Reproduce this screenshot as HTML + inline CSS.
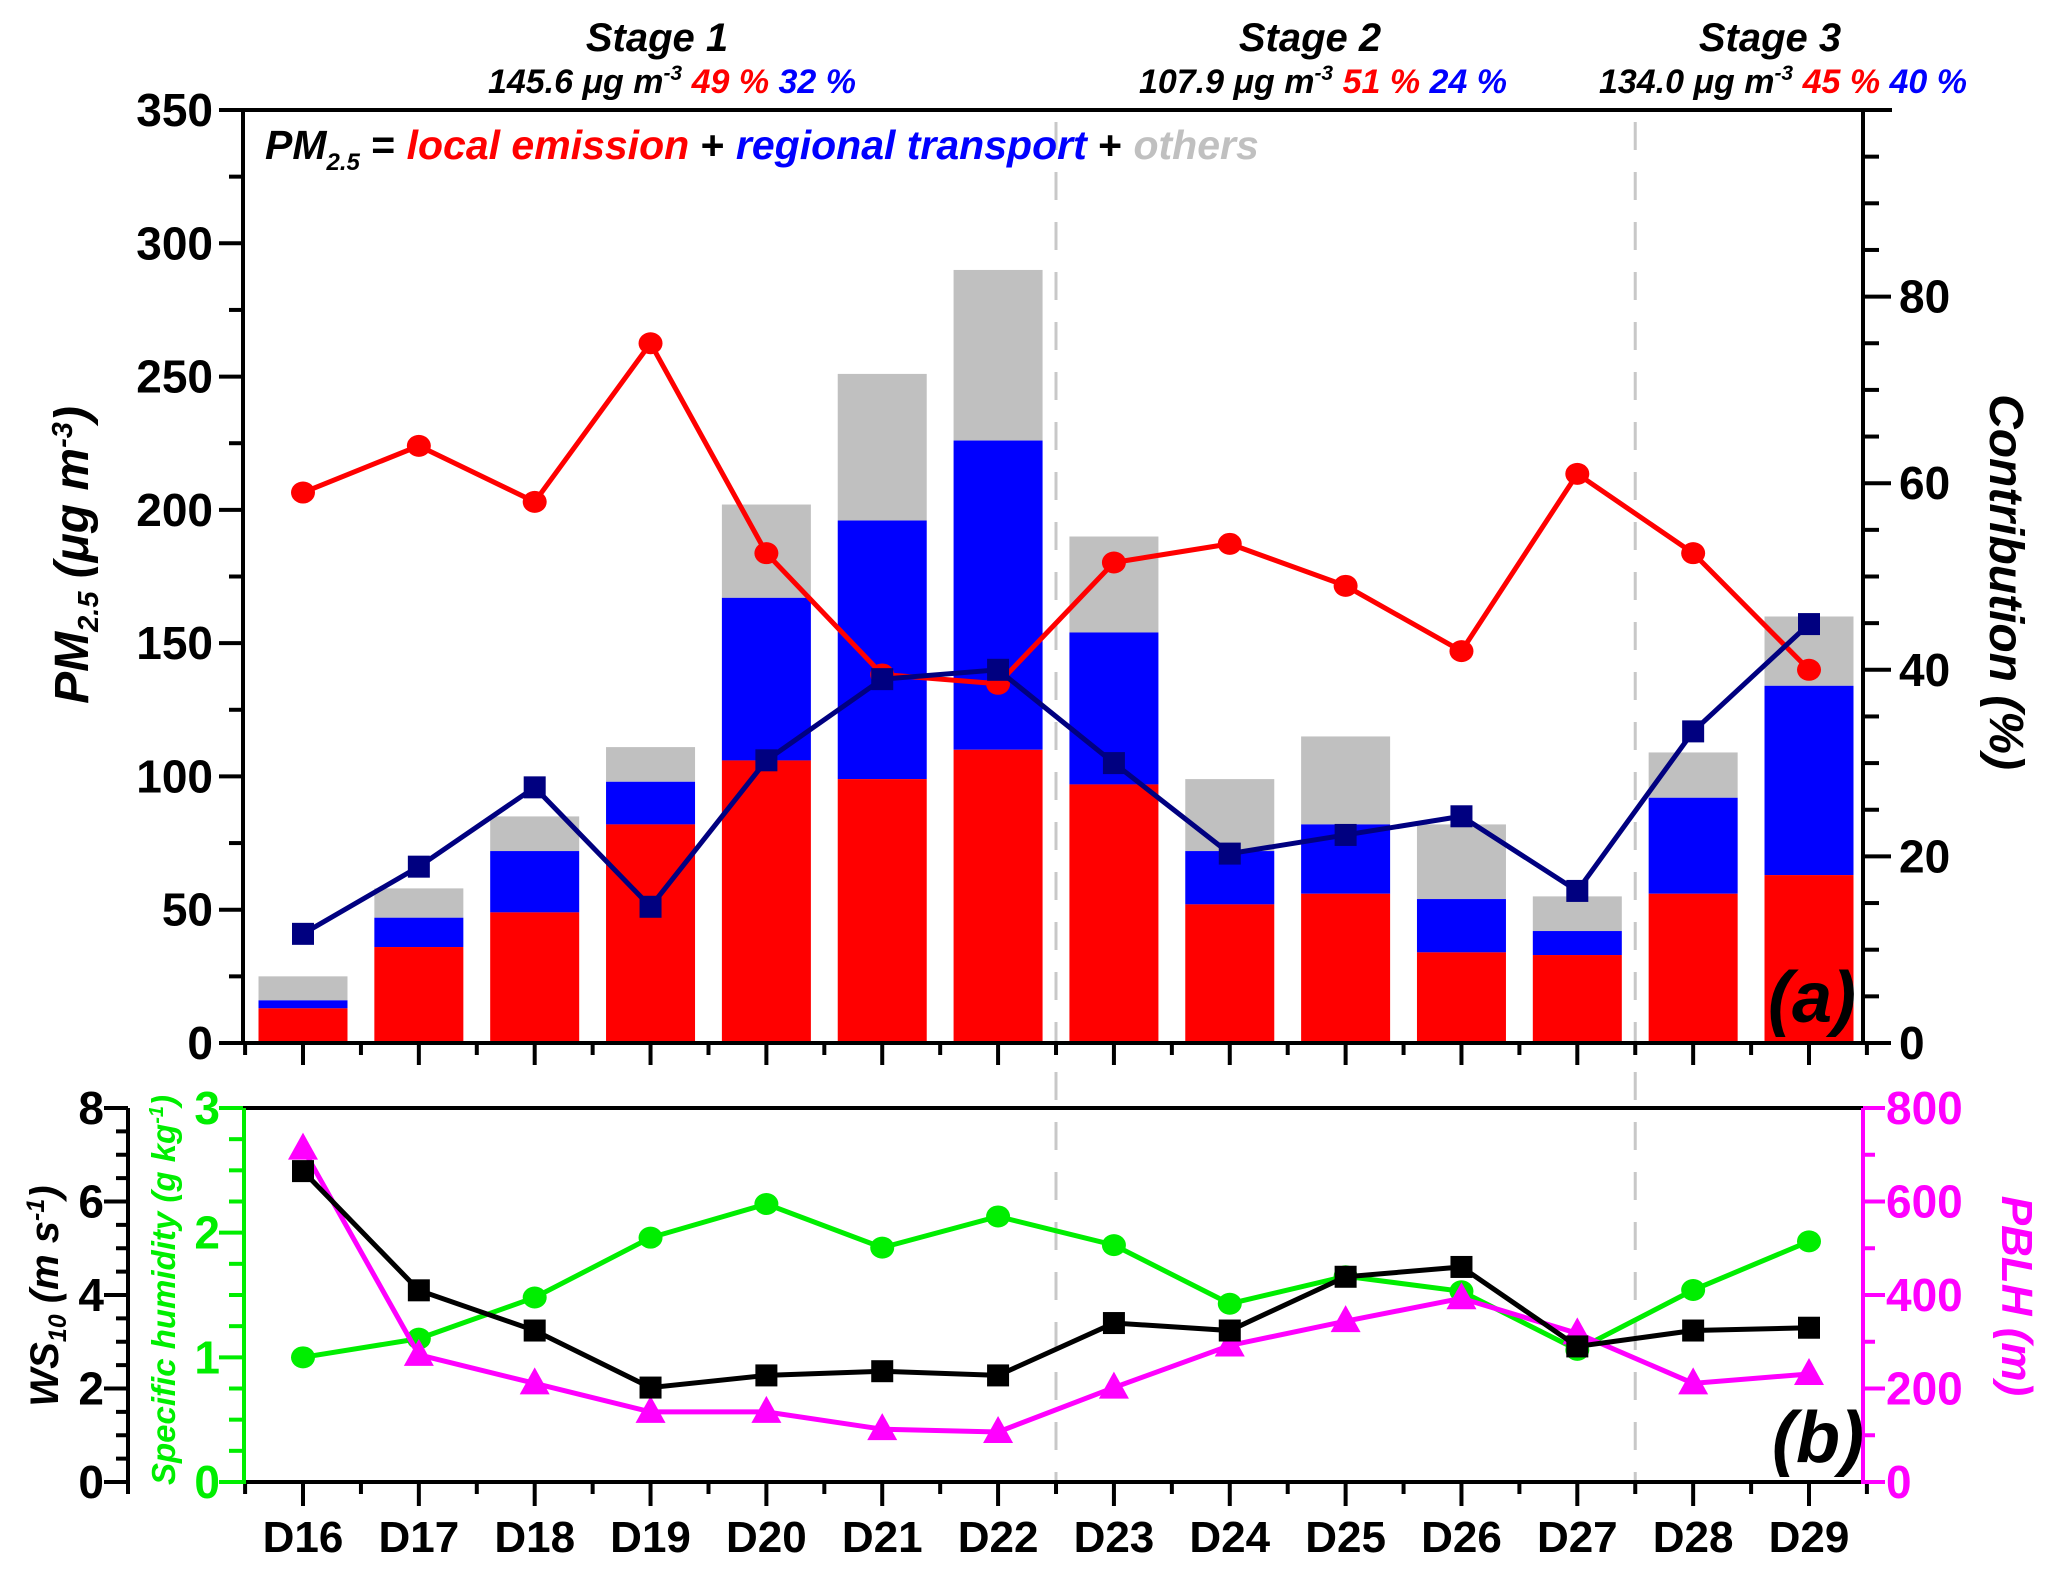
<!DOCTYPE html>
<html><head><meta charset="utf-8">
<style>
html,body{margin:0;padding:0;background:#fff;}
svg{display:block;font-family:"Liberation Sans",Arial,sans-serif;}
</style></head>
<body>
<svg id="chart" width="2067" height="1570" viewBox="0 0 2067 1570">
<g id="layer"></g>
</svg>
<script>
const categories=["D16","D17","D18","D19","D20","D21","D22","D23","D24","D25","D26","D27","D28","D29"];
const localEmission=[13,36,49,82,106,99,110,97,52,56,34,33,56,63];
const localPlusRegional=[16,47,72,98,167,196,226,154,72,82,54,42,92,134];
const totalPM=[25,58,85,111,202,251,290,190,99,115,82,55,109,160];
const localPct=[59,64,58,75,52.5,39.5,38.5,51.5,53.5,49,42,61,52.5,40];
const regionalPct=[11.7,18.9,27.4,14.6,30.3,39,40,30,20.3,22.3,24.3,16.3,33.4,44.9];
const ws10=[6.65,4.1,3.24,2.02,2.28,2.37,2.28,3.4,3.24,4.39,4.6,2.9,3.24,3.3];
const humidity=[1.0,1.15,1.48,1.96,2.23,1.88,2.13,1.9,1.43,1.65,1.53,1.06,1.54,1.93];
const pblh=[713,272,211,150,150,113,107,202,292,344,393,318,211,231];
const pmTicks=[0,50,100,150,200,250,300,350];
const pctTicks=[0,20,40,60,80];
const wsTicks=[0,2,4,6,8];
const humTicks=[0,1,2,3];
const pblhTicks=[0,200,400,600,800];

const NS="http://www.w3.org/2000/svg";
const L=document.getElementById('layer');
function mk(tag,attrs,parent){const e=document.createElementNS(NS,tag);for(const k in attrs)e.setAttribute(k,attrs[k]);(parent||L).appendChild(e);return e;}
const X0=243,X1=1863;
const xc=i=>303+i*(1809-303)/13;
const TOP0=1043,TOP1=110;
const yPM=v=>TOP0-v*(TOP0-TOP1)/350;
const yPct=v=>TOP0-v*(TOP0-TOP1)/100;
const B0=1482,B1=1108;
const yWS=v=>B0-v*(B0-B1)/8;
const yHum=v=>B0-v*(B0-B1)/3;
const yPB=v=>B0-v*(B0-B1)/800;
const bw=89;

categories.forEach((c,i)=>{
  let r=mk('rect',{x:xc(i)-bw/2,y:yPM(totalPM[i]),width:bw,height:yPM(localPlusRegional[i])-yPM(totalPM[i]),fill:'#c0c0c0'});
  
  
  r=mk('rect',{x:xc(i)-bw/2,y:yPM(localPlusRegional[i]),width:bw,height:yPM(localEmission[i])-yPM(localPlusRegional[i]),fill:'#0000ff'});
  
  
  r=mk('rect',{x:xc(i)-bw/2,y:yPM(localEmission[i]),width:bw,height:TOP0-yPM(localEmission[i]),fill:'#ff0000'});
  
  
});
[6.5,11.5].forEach(p=>{
  const x=xc(p);
  const d=mk('line',{x1:x,x2:x,y1:122,y2:1480,stroke:'#c8c8c8','stroke-width':3,'stroke-dasharray':'28,22'});
  
  
});
function series(vals,yf,color,marker,name,sw){
  const pts=vals.map((v,i)=>xc(i)+','+yf(v)).join(' ');
  const pl=mk('polyline',{points:pts,fill:'none',stroke:color,'stroke-width':sw||5});
  
  
  vals.forEach((v,i)=>{
    const x=xc(i),y=yf(v);let m;
    if(marker==='circle')m=mk('ellipse',{cx:x,cy:y,rx:12,ry:11,fill:color});
    else if(marker==='square')m=mk('rect',{x:x-11,y:y-11,width:22,height:22,fill:color});
    else m=mk('polygon',{points:`${x},${y-16} ${x-15},${y+11} ${x+15},${y+11}`,fill:color});
    
    
  });
}
series(localPct,yPct,'#ff0000','circle','local-contribution');
series(regionalPct,yPct,'#000080','square','regional-contribution');

const ax=mk('g',{stroke:'#000','stroke-width':4,fill:'none'});
mk('line',{x1:X0-2,x2:1892,y1:TOP1,y2:TOP1},ax);
mk('line',{x1:X0,x2:X0,y1:TOP1,y2:TOP0+2},ax);
mk('line',{x1:X1,x2:X1,y1:TOP1,y2:TOP0+2},ax);
mk('line',{x1:X0-2,x2:X1+2,y1:TOP0,y2:TOP0},ax);
for(let v=0;v<=350;v+=25){const y=yPM(v);mk('line',{x1:X0,x2:X0-(v%50===0?24:14),y1:y,y2:y},ax);}
for(let v=0;v<=100;v+=5){const y=yPct(v);mk('line',{x1:X1,x2:X1+(v%20===0?28:16),y1:y,y2:y},ax);}
categories.forEach((c,i)=>{mk('line',{x1:xc(i),x2:xc(i),y1:TOP0,y2:TOP0+22},ax);mk('line',{x1:xc(i)-57.9,x2:xc(i)-57.9,y1:TOP0,y2:TOP0+12},ax);});
mk('line',{x1:xc(13)+57.9,x2:xc(13)+57.9,y1:TOP0,y2:TOP0+12},ax);
pmTicks.forEach(v=>{const t=mk('text',{x:X0-30,y:yPM(v)+16,'text-anchor':'end','font-size':46,'font-weight':'bold'});t.textContent=v;});
pctTicks.forEach(v=>{const t=mk('text',{x:X1+36,y:yPct(v)+16,'font-size':46,'font-weight':'bold'});t.textContent=v;});

series(humidity,yHum,'#00ee00','circle','humidity');
series(pblh,yPB,'#ff00ff','triangle','pblh');
series(ws10,yWS,'#000','square','ws10');

const bx=mk('g',{stroke:'#000','stroke-width':4,fill:'none'});
mk('line',{x1:X0,x2:X1,y1:B1,y2:B1},bx);
mk('line',{x1:X0,x2:X1,y1:B0,y2:B0},bx);
mk('line',{x1:128,x2:128,y1:B1,y2:B0+12},bx);
for(let v=0;v<=8;v+=0.5){const y=yWS(v);mk('line',{x1:128,x2:128-(v%2===0?24:12),y1:y,y2:y},bx);}
categories.forEach((c,i)=>{mk('line',{x1:xc(i),x2:xc(i),y1:B0,y2:B0+24},bx);mk('line',{x1:xc(i)-57.9,x2:xc(i)-57.9,y1:B0,y2:B0+12},bx);});
mk('line',{x1:xc(13)+57.9,x2:xc(13)+57.9,y1:B0,y2:B0+12},bx);
const gx=mk('g',{stroke:'#00ee00','stroke-width':4});
mk('line',{x1:X0+1,x2:X0+1,y1:B1,y2:B0+2},gx);
for(let v=0;v<=3;v+=0.25){const y=yHum(v);mk('line',{x1:X0,x2:X0-(v%1===0?24:14),y1:y,y2:y},gx);}
const mx=mk('g',{stroke:'#ff00ff','stroke-width':4});
mk('line',{x1:X1,x2:X1,y1:B1,y2:B0+2},mx);
for(let v=0;v<=800;v+=100){const y=yPB(v);mk('line',{x1:X1,x2:X1+(v%200===0?22:12),y1:y,y2:y},mx);}
wsTicks.forEach(v=>{const t=mk('text',{x:104,y:yWS(v)+16,'text-anchor':'end','font-size':46,'font-weight':'bold'});t.textContent=v;});
humTicks.forEach(v=>{const t=mk('text',{x:220,y:yHum(v)+16,'text-anchor':'end','font-size':46,'font-weight':'bold',fill:'#00ee00'});t.textContent=v;});
pblhTicks.forEach(v=>{const t=mk('text',{x:1886,y:yPB(v)+16,'font-size':46,'font-weight':'bold',fill:'#ff00ff'});t.textContent=v;});
categories.forEach((c,i)=>{const t=mk('text',{x:xc(i),y:1552,'text-anchor':'middle','font-size':44,'font-weight':'bold'});t.textContent=c;});
</script>
<svg width="2067" height="1570" viewBox="0 0 2067 1570" style="position:absolute;left:0;top:0" font-family="Liberation Sans, Arial, sans-serif" font-weight="bold" font-style="italic">
<g>
<text x="657" y="51" text-anchor="middle" font-size="40">Stage 1</text>
<text x="672" y="93" text-anchor="middle" font-size="34"><tspan>145.6 μg m</tspan><tspan font-size="21" dy="-13">-3</tspan><tspan dy="13" fill="#f00"> 49 %</tspan><tspan fill="#00f">  32 %</tspan></text>
</g>
<g>
<text x="1310" y="51" text-anchor="middle" font-size="40">Stage 2</text>
<text x="1323" y="93" text-anchor="middle" font-size="34"><tspan>107.9 μg m</tspan><tspan font-size="21" dy="-13">-3</tspan><tspan dy="13" fill="#f00"> 51 %</tspan><tspan fill="#00f">  24 %</tspan></text>
</g>
<g>
<text x="1770" y="51" text-anchor="middle" font-size="40">Stage 3</text>
<text x="1783" y="93" text-anchor="middle" font-size="34"><tspan>134.0 μg m</tspan><tspan font-size="21" dy="-13">-3</tspan><tspan dy="13" fill="#f00"> 45 %</tspan><tspan fill="#00f">  40 %</tspan></text>
</g>
<text x="265" y="159" font-size="41"><tspan>PM</tspan><tspan font-size="24" dy="11">2.5</tspan><tspan dy="-11" font-style="normal"> = </tspan><tspan fill="#f00">local emission</tspan><tspan font-style="normal"> + </tspan><tspan fill="#00f">regional transport</tspan><tspan font-style="normal"> + </tspan><tspan fill="#c0c0c0">others</tspan></text>
<text transform="translate(88,555) rotate(-90)" text-anchor="middle" font-size="48"><tspan>PM</tspan><tspan font-size="29" dy="10">2.5</tspan><tspan dy="-10"> (μg  m</tspan><tspan font-size="29" dy="-16">-3</tspan><tspan dy="16">)</tspan></text>
<text transform="translate(1990,582) rotate(90)" text-anchor="middle" font-size="48">Contribution (%)</text>
<text x="1812" y="1022" text-anchor="middle" font-size="72">(a)</text>
<text x="1818" y="1462" text-anchor="middle" font-size="72">(b)</text>
<text transform="translate(58,1296) rotate(-90)" text-anchor="middle" font-size="40"><tspan>WS</tspan><tspan font-size="25" dy="8">10</tspan><tspan dy="-8"> (m  s</tspan><tspan font-size="25" dy="-14">-1</tspan><tspan dy="14">)</tspan></text>
<text transform="translate(175,1290) rotate(-90)" text-anchor="middle" font-size="33" fill="#00ee00"><tspan>Specific humidity (g kg</tspan><tspan font-size="20" dy="-12">-1</tspan><tspan dy="12">)</tspan></text>
<text transform="translate(2002,1296) rotate(90)" text-anchor="middle" font-size="44" fill="#ff00ff">PBLH (m)</text>
</svg>
</body></html>
